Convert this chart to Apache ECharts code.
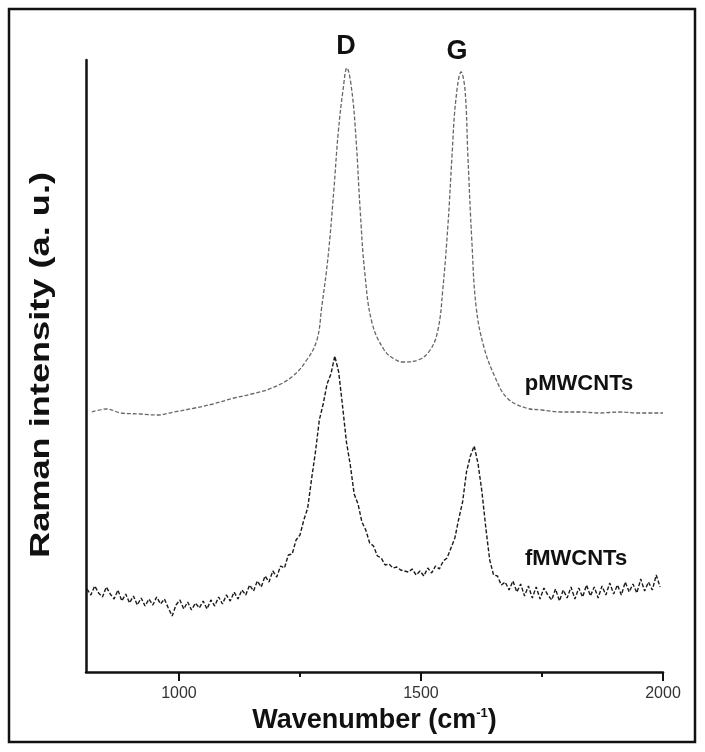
<!DOCTYPE html>
<html>
<head>
<meta charset="utf-8">
<script src="https://cdn.jsdelivr.net/npm/echarts@6/dist/echarts.min.js"></script>
<style>
  html, body { margin: 0; padding: 0; background: #fff; }
  #main { width: 705px; height: 752px; }
</style>
</head>
<body>
<div id="main"></div>
<script>
  // pMWCNTs spectrum (cm-1, a.u.)
  var pWave = [820, 851, 880, 920, 955, 990, 1033, 1070, 1114, 1150, 1192, 1233, 1264, 1285, 1295,
    1308, 1320, 1329, 1339, 1347, 1357, 1366, 1374, 1384, 1399, 1424, 1445, 1463, 1494, 1519,
    1535, 1545, 1556, 1564, 1572, 1583, 1591, 1597, 1605, 1614, 1630, 1653, 1678, 1717, 1750,
    1789, 1830, 1868, 1910, 1948, 2000];
  var pIntensity = [260, 263, 259, 258, 257, 260, 264, 268, 274, 278, 284, 295, 312, 332, 365,
    415, 482, 539, 582, 604, 582, 532, 465, 399, 349, 322, 313, 310, 312, 322,
    342, 382, 449, 515, 572, 600, 582, 515, 432, 365, 325, 295, 274, 264, 262,
    260, 260, 259, 260, 259, 259];

  // fMWCNTs spectrum, sampled every 8 cm-1 from 810
  var fWaveStart = 810;
  var fWaveStep = 8;
  var fIntensity = [83, 77, 86, 79, 75, 85, 78, 73, 82, 71, 78, 69, 76, 67, 74, 66, 73, 67, 75, 68,
    73, 64, 56, 67, 72, 63, 70, 62, 69, 64, 71, 63, 72, 66, 75, 68, 77, 71, 80, 73,
    82, 77, 87, 81, 91, 85, 96, 90, 101, 95, 106, 104, 117, 118, 132, 137, 152, 164, 193, 220,
    252, 268, 288, 298, 316, 300, 266, 230, 207, 178, 168, 150, 142, 129, 126, 116, 114, 107, 108, 104,
    105, 102, 101, 100, 103, 97, 101, 96, 104, 99, 106, 103, 111, 114, 124, 134, 153, 170, 200, 216,
    226, 208, 180, 144, 112, 97, 96, 87, 90, 82, 91, 80, 88, 76, 86, 74, 85, 73, 84, 77,
    72, 83, 71, 82, 74, 85, 73, 84, 75, 87, 76, 85, 74, 86, 77, 89, 78, 87, 77, 90,
    80, 88, 79, 93, 81, 90, 82, 97, 85];

  var majorTicks = [1000, 1500, 2000];
  var minorTicks = [1250, 1750];

  var FONT = 'Liberation Sans, Arial, sans-serif';

  var pData = pWave.map(function (w, i) { return [w, pIntensity[i]]; });
  var fData = fIntensity.map(function (v, i) { return [fWaveStart + i * fWaveStep, v]; });

  var myChart = echarts.init(document.getElementById('main'));
  var options = {
    backgroundColor: '#fff',
    animation: false,
    grid: { left: 86, right: 42, top: 60, bottom: 80 },
    xAxis: [{
      type: 'value',
      min: 808,
      max: 2000,
      name: '{t|Wavenumber (cm}{s|-1}{t|)}',
      nameLocation: 'middle',
      nameGap: 34,
      nameTextStyle: {
        rich: {
          t: { fontSize: 27, fontWeight: 'bold', fontFamily: FONT, color: '#111' },
          s: { fontSize: 13, fontWeight: 'bold', fontFamily: FONT, color: '#111', verticalAlign: 'top', padding: [0, 0, 11, 0] }
        }
      },
      axisLine: { lineStyle: { color: '#111', width: 2.5 } },
      axisTick: { customValues: majorTicks, length: 9, lineStyle: { color: '#111', width: 2 } },
      axisLabel: {
        customValues: majorTicks, margin: 14, fontSize: 16, fontFamily: FONT, color: '#333',
        formatter: function (v) { return String(v); }
      },
      splitLine: { show: false }
    }, {
      // minor ticks only
      type: 'value',
      position: 'bottom',
      min: 808,
      max: 2000,
      axisLine: { show: false },
      axisTick: { customValues: minorTicks, length: 5, lineStyle: { color: '#111', width: 2 } },
      axisLabel: { show: false },
      splitLine: { show: false }
    }],
    yAxis: {
      type: 'value',
      min: 0,
      max: 612,
      axisLine: { show: true, lineStyle: { color: '#111', width: 2.5 } },
      axisTick: { show: false },
      axisLabel: { show: false },
      splitLine: { show: false }
    },
    series: [{
      name: 'pMWCNTs',
      type: 'line',
      data: pData,
      smooth: 0.4,
      showSymbol: false,
      lineStyle: { color: '#666', width: 1.3, type: [4, 2] }
    }, {
      name: 'fMWCNTs',
      type: 'line',
      data: fData,
      showSymbol: false,
      lineStyle: { color: '#1a1a1a', width: 1.4, type: [4, 2] }
    }],
    graphic: [
      { type: 'rect', shape: { x: 9, y: 9, width: 686, height: 733 },
        style: { fill: 'none', stroke: '#111', lineWidth: 2.5 }, silent: true },
      // y axis title, stretched along its length like the source figure
      { type: 'text', x: 42, y: 365, rotation: Math.PI / 2, scaleX: 1.34,
        style: { text: 'Raman intensity (a. u.)', font: 'bold 27px ' + FONT, fill: '#111', textAlign: 'center', textVerticalAlign: 'middle' } },
      { type: 'text', x: 346, y: 47, style: { text: 'D', font: 'bold 27px ' + FONT, fill: '#111', textAlign: 'center', textVerticalAlign: 'middle' } },
      { type: 'text', x: 457, y: 52, style: { text: 'G', font: 'bold 27px ' + FONT, fill: '#111', textAlign: 'center', textVerticalAlign: 'middle' } },
      { type: 'text', x: 579, y: 384, style: { text: 'pMWCNTs', font: 'bold 22px ' + FONT, fill: '#111', textAlign: 'center', textVerticalAlign: 'middle' } },
      { type: 'text', x: 576, y: 559, style: { text: 'fMWCNTs', font: 'bold 22px ' + FONT, fill: '#111', textAlign: 'center', textVerticalAlign: 'middle' } }
    ]
  };
  myChart.setOption(options);
</script>
</body>
</html>
